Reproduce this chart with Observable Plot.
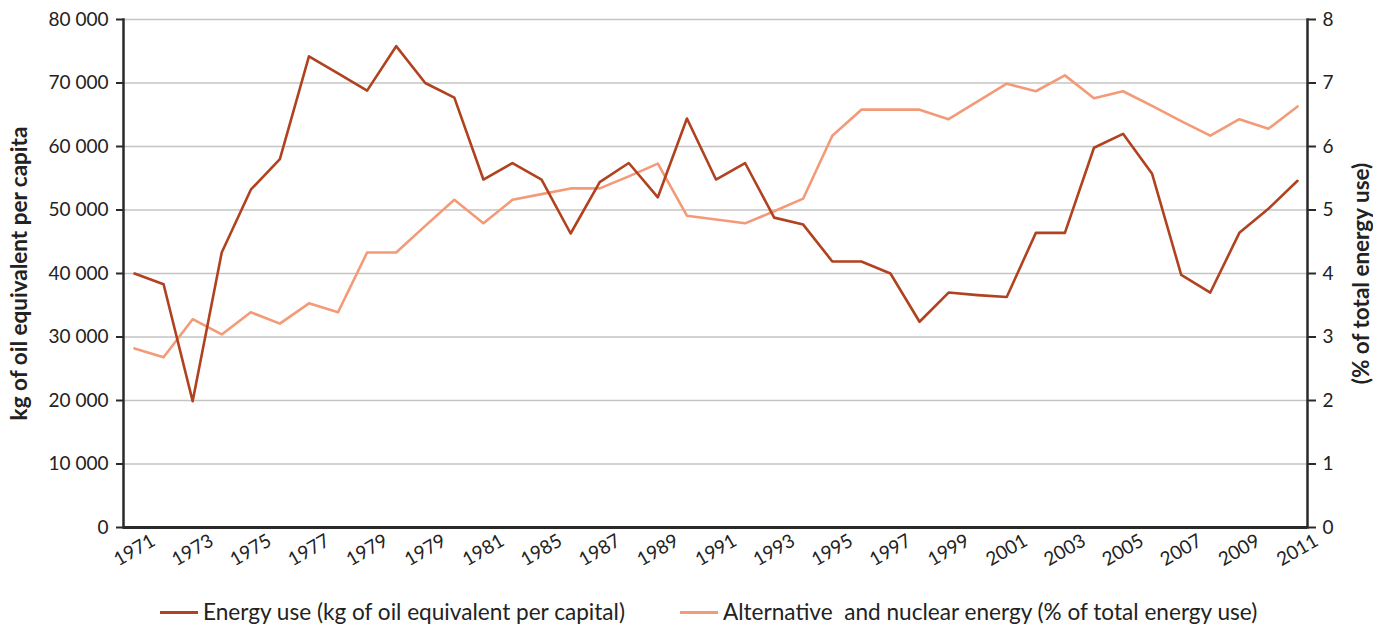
<!DOCTYPE html>
<html><head><meta charset="utf-8">
<script src="https://cdn.jsdelivr.net/npm/d3@7"></script>
<script src="https://cdn.jsdelivr.net/npm/@observablehq/plot@0.6"></script>
<style>
body{margin:0;background:#fff;overflow:hidden;font-family:Lato,sans-serif}
#legend{display:flex;align-items:center;height:40px;padding-left:160px;font-size:22.6px;line-height:26px;color:#222;white-space:pre}
.sw{display:inline-block;width:38px;height:3px;margin-right:5px}
</style></head><body><div id="chart"></div><div id="legend"></div>
<script>
const years = [1971,1972,1973,1974,1975,1976,1977,1978,1979,1980,1981,1982,1983,1984,1985,1986,1987,1988,1989,1990,
  1991,1992,1993,1994,1995,1996,1997,1998,1999,2000,2001,2002,2003,2004,2005,2006,2007,2008,2009,2010,2011];
const energyUse = [40000,38300,19900,43300,53200,58000,74200,71500,68800,75800,70000,67700,54800,57400,54800,46300,54400,57400,52000,64400,
  54800,57400,48800,47700,41900,41900,40000,32400,37000,36600,36300,46400,46400,59800,62000,55700,39800,37000,46400,50200,54600];
const altNuclear = [2.82,2.68,3.28,3.04,3.39,3.21,3.53,3.39,4.33,4.33,4.75,5.16,4.79,5.16,5.25,5.34,5.34,5.53,5.73,4.91,
  4.85,4.79,4.98,5.18,6.17,6.58,6.58,6.58,6.43,6.71,6.99,6.87,7.12,6.76,6.87,6.64,6.40,6.17,6.43,6.28,6.63];
const tickYears = [1971,1973,1975,1977,1979,1981,1983,1985,1987,1989,1991,1993,1995,1997,1999,2001,2003,2005,2007,2009,2011];
const tickLabels = ["1971","1973","1975","1977","1979","1979","1981","1985","1987","1989","1991","1993","1995","1997","1999","2001","2003","2005","2007","2009","2011"];
const leftTicks = [0,10000,20000,30000,40000,50000,60000,70000,80000];
const rightTicks = [0,1,2,3,4,5,6,7,8];
const seriesNames = ["Energy use (kg of oil equivalent per capital)", "Alternative  and nuclear energy (% of total energy use)"];
const colors = ["#b0421f", "#f39a78"];

const rows = years.map((y, i) => ({year: y, energy: energyUse[i], alt: altNuclear[i]}));
const ratio = 10000; // right axis unit -> left axis unit
const ticksData = tickYears.map((y, i) => ({year: y, label: tickLabels[i]}));
const fmt = d => d3.format(",")(d).replace(/,/g, " ");

const chart = Plot.plot({
  width: 1373,
  height: 592,
  marginLeft: 123,
  marginRight: 66,
  marginTop: 19,
  marginBottom: 65,
  style: {fontFamily: "Lato, sans-serif", fontSize: "19px", color: "#222", background: "#fff"},
  x: {domain: [1971, 2011], insetLeft: 11, insetRight: 10, axis: null},
  y: {domain: [0, 80000], axis: null},
  marks: [
    Plot.gridY(leftTicks, {stroke: "#c4c4c4", strokeOpacity: 1, strokeWidth: 1.5}),
    Plot.axisY({anchor: "left", ticks: leftTicks, tickFormat: fmt, tickSize: 7, tickPadding: 8, label: null, stroke: "#2a2a2a", strokeWidth: 2}),
    Plot.axisY({anchor: "left", ticks: [], label: "kg of oil equivalent per capita", labelAnchor: "center", labelArrow: "none", labelOffset: 112, fontWeight: "bold", fontSize: 22.5}),
    Plot.axisY({anchor: "right", ticks: rightTicks.map(v => v * ratio), tickFormat: d => String(d / ratio), tickSize: 8, tickPadding: 7, label: null, stroke: "#2a2a2a", strokeWidth: 2}),
    Plot.axisY({anchor: "right", ticks: [], label: "(% of total energy use)", labelAnchor: "center", labelArrow: "none", labelOffset: 61, fontWeight: "bold", fontSize: 22.5}),
    Plot.frame({anchor: "left", stroke: "#2a2a2a", strokeWidth: 2.5}),
    Plot.frame({anchor: "right", stroke: "#2a2a2a", strokeWidth: 2.5}),
    Plot.ruleY([0], {stroke: "#2a2a2a", strokeWidth: 3}),
    Plot.text(ticksData, {x: "year", text: "label", frameAnchor: "bottom", dy: 28, dx: 3, rotate: -30, textAnchor: "middle", fill: "#222"}),
    Plot.line(rows, {x: "year", y: d => d.alt * ratio, stroke: colors[1], strokeWidth: 2.6}),
    Plot.line(rows, {x: "year", y: "energy", stroke: colors[0], strokeWidth: 2.6})
  ]
});
document.getElementById("chart").appendChild(chart);

const legend = document.getElementById("legend");
seriesNames.forEach((name, i) => {
  const item = document.createElement("span");
  item.style.display = "inline-flex";
  item.style.alignItems = "center";
  item.style.marginRight = i === 0 ? "55px" : "0";
  const sw = document.createElement("span");
  sw.className = "sw";
  sw.style.background = colors[i];
  item.appendChild(sw);
  item.appendChild(document.createTextNode(name));
  legend.appendChild(item);
});
</script></body></html>
